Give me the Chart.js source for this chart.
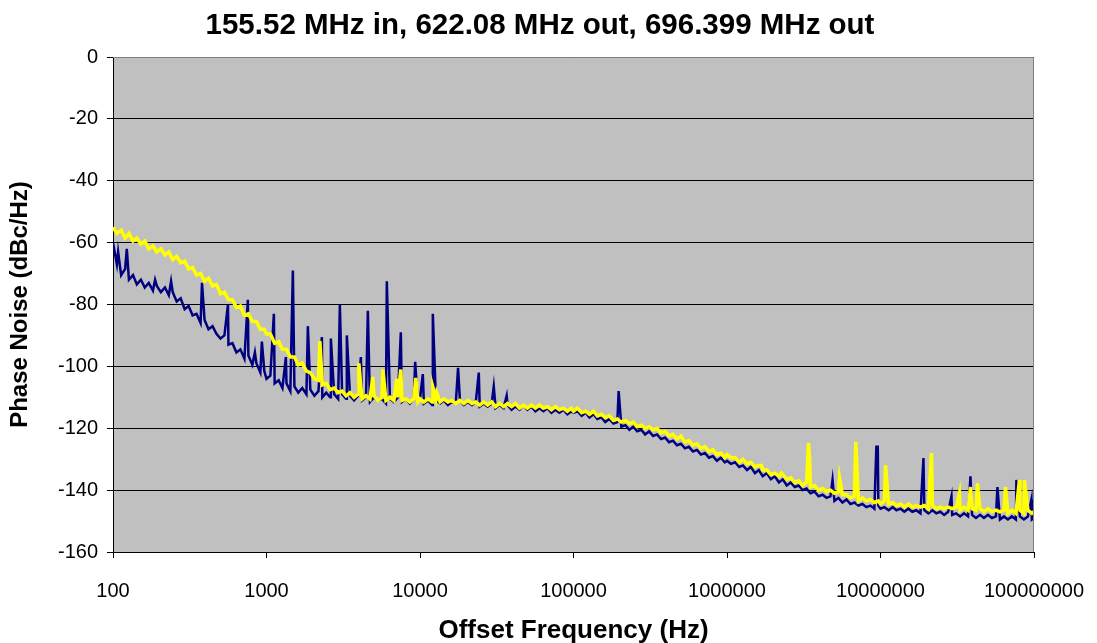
<!DOCTYPE html>
<html><head><meta charset="utf-8">
<script src="https://cdn.jsdelivr.net/npm/chart.js@4.4.0/dist/chart.umd.min.js"></script>
<style>html,body{margin:0;padding:0;background:#fff}#wrap{width:1097px;height:643px}</style>
</head><body><div id="wrap"><canvas id="c" width="1097" height="643"></canvas></div>
<script>
const titleText = '155.52 MHz in, 622.08 MHz out, 696.399 MHz out';
const xTitle = 'Offset Frequency (Hz)';
const yTitle = 'Phase Noise (dBc/Hz)';
const xTickValues = [100, 1000, 10000, 100000, 1000000, 10000000, 100000000];
const yTickValues = [-160, -140, -120, -100, -80, -60, -40, -20, 0];

// measurement frequencies (Hz)
const freqHz = [
 100,106,113,120,127,135,143,152,161,171,182,193,205,218,231,245,260,276,293,311,330,350,372,395,419,445,472,501,532,565,600,637,676,718,762,809,859,912,968,
 1000,1060,1130,1200,1270,1350,1430,1520,1610,1710,1820,1930,2050,2180,2310,2450,2600,2760,2930,3110,3300,3500,3720,3950,4190,4450,4720,5010,5320,5650,6000,6370,6760,7180,7620,8090,8590,9120,9680,
 10000,10600,11300,12000,12700,13500,14300,15200,16100,17100,18200,19300,20500,21800,23100,24500,26000,27600,29300,31100,33000,35000,37200,39500,41900,44500,47200,50100,53200,56500,60000,63700,67600,71800,76200,80900,85900,91200,96800,
 1e5,1.06e5,1.13e5,1.2e5,1.27e5,1.35e5,1.43e5,1.52e5,1.61e5,1.71e5,1.82e5,1.93e5,2.05e5,2.18e5,2.31e5,2.45e5,2.6e5,2.76e5,2.93e5,3.11e5,3.3e5,3.5e5,3.72e5,3.95e5,4.19e5,4.45e5,4.72e5,5.01e5,5.32e5,5.65e5,6e5,6.37e5,6.76e5,7.18e5,7.62e5,8.09e5,8.59e5,9.12e5,9.68e5,
 1e6,1.06e6,1.13e6,1.2e6,1.27e6,1.35e6,1.43e6,1.52e6,1.61e6,1.71e6,1.82e6,1.93e6,2.05e6,2.18e6,2.31e6,2.45e6,2.6e6,2.76e6,2.93e6,3.11e6,3.3e6,3.5e6,3.72e6,3.95e6,4.19e6,4.45e6,4.72e6,5.01e6,5.32e6,5.65e6,6e6,6.37e6,6.76e6,7.18e6,7.62e6,8.09e6,8.59e6,9.12e6,9.68e6,
 1e7,1.06e7,1.13e7,1.2e7,1.27e7,1.35e7,1.43e7,1.52e7,1.61e7,1.71e7,1.82e7,1.93e7,2.05e7,2.18e7,2.31e7,2.45e7,2.6e7,2.76e7,2.93e7,3.11e7,3.3e7,3.5e7,3.72e7,3.95e7,4.19e7,4.45e7,4.72e7,5.01e7,5.32e7,5.65e7,6e7,6.37e7,6.76e7,7.18e7,7.62e7,8.09e7,8.59e7,9.12e7,9.68e7,
 1e8
];

// 155.52 MHz in -> 622.08 MHz out (navy), dBc/Hz
const navyDb = [
 -60,-67,-70.5,-68.5,-72,-70.5,-73.5,-72,-74.5,-73,-75.5,-74,-76,-74.5,-77,-76,-79,-78,-81.5,-80.5,-83.5,-83,-86,-85,-88,-87,-89.5,-91,-90,-93,-92.5,-95.5,-94.5,-97.5,-96.5,-99.5,-99,-102,-101.5,
 -104,-103,-105.5,-104.5,-107,-105.5,-108,-106.5,-108.5,-107,-109,-107.5,-109.5,-108,-110,-108.5,-110,-109,-110.5,-109,-110.5,-109.5,-111,-109.5,-111,-110,-111.5,-110,-111,-110.5,-112,-110.5,-111.5,-110,-111.5,-110.5,-112,-110.5,-111.5,
 -110.5,-112,-111,-112.5,-111,-112,-111,-112.5,-111.5,-112,-111,-112.5,-111.5,-112.5,-111.5,-113,-112,-113,-112,-113.5,-112.5,-113.5,-112.5,-114,-113,-114,-112.5,-114,-113,-114.5,-113.5,-114.5,-113.5,-115,-114,-115,-114,-115.5,-114.5,
 -115,-114.5,-116,-115,-116.5,-115.5,-117,-116.5,-118,-117,-118.5,-118,-119.5,-119,-120.5,-119.5,-121,-120.5,-122,-121,-122.5,-122,-123.5,-123,-124.5,-124,-125.5,-125,-126.5,-126,-127.5,-127,-128.5,-128,-129.5,-129,-130.5,-129.5,-131,
 -130.5,-131.5,-131,-132.5,-132,-133.5,-132.5,-134.5,-133.5,-135.5,-134.5,-136.5,-135.5,-137.5,-136.5,-138.5,-137.5,-139,-138.5,-140,-139.5,-141,-140.5,-142,-141.5,-142.5,-142,-143.5,-142.5,-144,-143,-144.5,-144,-145,-144.5,-145.5,-145,-146,-145,
 -146,-145.5,-146.5,-145.5,-146.5,-146,-147,-146,-147,-146.5,-147.5,-146.5,-147.5,-146.5,-147.5,-147,-148,-147,-148,-147.5,-148.5,-147.5,-148.5,-148,-149,-148,-149,-148,-149,-148.5,-149.5,-148.5,-149.5,-148.5,-149.5,-148.5,-149.5,-148.5,-149.5,
 -149
];

// 696.399 MHz out (yellow), dBc/Hz
const yellowDb = [
 -55,-57,-56,-58.5,-57,-59.5,-58.5,-60.5,-59.5,-62,-61,-63,-62,-64,-63,-65.5,-64.5,-66.5,-66,-68.5,-68,-70.5,-70,-72.5,-71.5,-74,-73.5,-76.5,-76,-78.5,-78.5,-81,-80.5,-83.5,-83,-85.5,-85.5,-88,-88,
 -89.5,-89.5,-92.5,-92,-94.5,-94.5,-97,-97,-99.5,-99,-101.5,-102,-104,-104.5,-106,-105.5,-107.5,-107,-108.5,-108,-109.5,-108.5,-110,-109,-110.5,-109.5,-110.5,-109.5,-111,-110,-111,-110,-111,-110,-111,-110.5,-111.5,-110.5,-111.5,
 -110.5,-111.5,-110.5,-111.5,-110.5,-111.5,-110.5,-111.5,-111,-112,-111,-112,-111,-112,-111.5,-112.5,-111.5,-112.5,-111.5,-113,-112,-113,-112,-113,-112,-113.5,-112.5,-113.5,-112.5,-113.5,-112.5,-113.5,-113,-114,-113,-114,-113.5,-114.5,-113.5,
 -114.5,-113.5,-115,-114.5,-115.5,-114.5,-116,-115.5,-116.5,-116,-117.5,-117,-118,-117.5,-118.5,-118,-119.5,-119,-120,-119.5,-120.5,-120,-121.5,-121,-122.5,-122,-123.5,-122.5,-124.5,-124,-125.5,-125,-126.5,-126,-127.5,-127,-128.5,-128,-129.5,
 -128.5,-129.5,-129.5,-131,-130,-131.5,-131,-132.5,-132,-133.5,-133.5,-135,-134.5,-135.5,-135,-136.5,-136,-137.5,-137,-138.5,-137.5,-139,-138.5,-140,-139.5,-140.5,-140,-141,-140.5,-141.5,-141.5,-142.5,-142,-143.5,-142.5,-143.5,-143,-144,-143.5,
 -144.5,-143.5,-144.5,-144,-145,-144.5,-145.5,-144.5,-145.5,-145,-145.5,-145,-146,-145,-146,-145.5,-146,-145.5,-146,-145.5,-146.5,-145.5,-146.5,-146,-146.5,-146,-147,-146,-147,-146.5,-147,-146.5,-147.5,-146.5,-147.5,-146.5,-147.5,-146.5,-147.5,
 -147
];

// spurs
const navySpurHz = [108,123,188,239,380,561,756,840,933,1117,1337,1485,1860,2295,2626,3005,3337,4120,4574,6079,7500,9300,10430,12120,17700,24150,30230,36700,196800,4.87e6,9.4e6,9.6e6,1.905e7,2.9e7,3.855e7,5.78e7,7.68e7,9.62e7];
const navySpurDb = [-63,-62,-72,-72.5,-73,-80,-78.5,-95.5,-92,-83,-97,-69,-87,-90.5,-91,-80,-90,-97,-82,-72.5,-89,-98.5,-102.5,-83,-100.5,-102,-106.5,-109.5,-108,-136.7,-126,-126,-129.6,-142,-135.5,-139,-136.7,-143];
const yellowSpurHz = [2227,3996,4927,5727,7063,7500,9390,12120,12860,1.679e6,2.268e6,3.397e6,3.45e6,5.408e6,6.9e6,1.078e7,2.148e7,3.267e7,3.86e7,4.28e7,6.515e7,8.036e7,8.66e7];
const yellowSpurDb = [-91.8,-99,-103.4,-101,-104,-101,-103.7,-106.7,-108.6,-132,-134.5,-124.8,-129.5,-136,-124.4,-132,-128,-141,-139,-137.8,-139,-136.7,-136.7];

function buildPoints(fx, db, sx, sdb) {
  const pts = fx.map((f, i) => ({x: f, y: db[i]}));
  sx.forEach((f, i) => pts.push({x: f, y: sdb[i]}));
  pts.sort((a, b) => a.x - b.x);
  return pts;
}
const navyPts = buildPoints(freqHz, navyDb, navySpurHz, navySpurDb);
const yellowPts = buildPoints(freqHz, yellowDb, yellowSpurHz, yellowSpurDb);

const FONT = "'Liberation Sans', Arial, sans-serif";

const plotBg = {
  id: 'plotBg',
  beforeDraw(chart) {
    const {ctx, chartArea: a} = chart;
    ctx.save();
    ctx.fillStyle = '#C0C0C0';
    ctx.fillRect(a.left, a.top, a.right - a.left, a.bottom - a.top);
    ctx.restore();
  },
  afterDraw(chart) {
    const {ctx, chartArea: a} = chart;
    ctx.save();
    ctx.strokeStyle = '#808080';
    ctx.lineWidth = 1;
    ctx.beginPath();
    ctx.moveTo(a.left, a.top + 0.5);
    ctx.lineTo(a.right - 0.5, a.top + 0.5);
    ctx.lineTo(a.right - 0.5, a.bottom);
    ctx.stroke();
    ctx.restore();
  }
};

new Chart(document.getElementById('c'), {
  type: 'line',
  data: {
    datasets: [
      {label: '696.399 MHz out', data: yellowPts, borderColor: '#FFFF00', borderWidth: 3.5, pointRadius: 0, tension: 0, order: 0},
      {label: '622.08 MHz out', data: navyPts, borderColor: '#000080', borderWidth: 2.5, pointRadius: 0, tension: 0, order: 1}
    ]
  },
  options: {
    responsive: false,
    animation: false,
    devicePixelRatio: 1,
    layout: {padding: {left: 0, right: 17, top: 0, bottom: 0}},
    plugins: {
      legend: {display: false},
      tooltip: {enabled: false},
      title: {display: true, text: titleText, color: '#000',
        font: {family: FONT, size: 29.5, weight: 'bold'}, padding: {top: 8, bottom: 13.6}}
    },
    scales: {
      x: {
        type: 'logarithmic', min: 100, max: 100000000,
        afterBuildTicks(s) { s.ticks = xTickValues.map(v => ({value: v})); },
        ticks: {callback: v => String(v), autoSkip: false, maxRotation: 0, padding: 21, color: '#000',
          font: {family: FONT, size: 20}},
        grid: {drawOnChartArea: false, drawTicks: true, tickLength: 6, color: '#000'},
        border: {color: '#000', width: 1},
        title: {display: true, text: xTitle, color: '#000', font: {family: FONT, size: 26, weight: 'bold'}, padding: {top: 0, bottom: -3}},
        afterFit(s) { s.height = 91; s.paddingRight = 63; s.paddingLeft = 0; }
      },
      y: {
        min: -160, max: 0,
        afterBuildTicks(s) { s.ticks = yTickValues.map(v => ({value: v})); },
        ticks: {padding: 9, color: '#000', font: {family: FONT, size: 20}},
        grid: {color: '#000', lineWidth: 1, tickLength: 6},
        border: {color: '#000', width: 1},
        title: {display: true, text: yTitle, color: '#000', font: {family: FONT, size: 24, weight: 'bold'}, padding: {top: 6, bottom: 0}},
        afterFit(s) { s.width = 113; }
      }
    }
  },
  plugins: [plotBg]
});
</script>
</body></html>
